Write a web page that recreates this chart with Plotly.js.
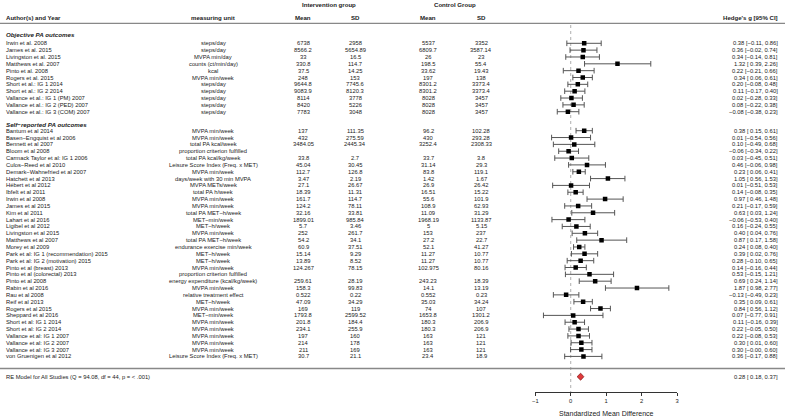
<!DOCTYPE html>
<html>
<head>
<meta charset="utf-8">
<script src="https://cdn.plot.ly/plotly-3.0.1.min.js"></script>
<style>html,body{margin:0;padding:0;background:#fff;}#chart{width:785px;height:417px;}</style>
</head>
<body>
<div id="chart"></div>
<script>
// ---------- DATA ----------
const objAuthors = ["Irwin et al. 2008","James et al. 2015","Livingston et al. 2015","Matthews et al. 2007","Pinto et al. 2008","Rogers et al. 2015","Short et al.: IG 1 2014","Short et al.: IG 2 2014","Vallance et al.: IG 1 (PM) 2007","Vallance et al.: IG 2 (PED) 2007","Vallance et al.: IG 3 (COM) 2007"];
const objUnits = ["steps/day","steps/day","MVPA min/day","counts (ct/min/day)","kcal","MVPA min/week","steps/day","steps/day","steps/day","steps/day","steps/day"];
const objIntMean = [6738,8566.2,33,330.8,37.5,248,9644.8,9083.9,8114,8420,7783];
const objIntSD = [2958,5654.89,16.5,114.7,14.25,153,7745.6,8120.3,3778,5226,3048];
const objCtlMean = [5537,6809.7,26,198.5,33.62,197,8301.2,8301.2,8028,8028,8028];
const objCtlSD = [3352,3587.14,23,55.4,19.43,138,3373.4,3373.4,3457,3457,3457];
const objG = [0.38,0.36,0.34,1.32,0.22,0.34,0.20,0.11,0.02,0.08,-0.08];
const objLo = [-0.11,-0.02,-0.14,0.39,-0.21,0.06,-0.08,-0.17,-0.28,-0.22,-0.38];
const objHi = [0.86,0.74,0.81,2.26,0.66,0.61,0.48,0.40,0.33,0.38,0.23];

const selfAuthors = ["Bantum et al 2014","Basen\u2212Engquist et al 2006","Bennett et al 2007","Bloom et al 2008","Carmack Taylor et al: IG 1 2006","Culos\u2212Reed et al 2010","Demark\u2212Wahnefried et al 2007","Hatchett et al 2013","Hébert et al 2012","Ibfelt et al 2011","Irwin et al 2008","James et al 2015","Kim et al 2011","Lahart et al 2016","Ligibel et al 2012","Livingston et al 2015","Matthews et al 2007","Morey et al 2009","Park et al: IG 1 (recommendation) 2015","Park et al: IG 2 (motivation) 2015","Pinto et al (breast) 2013","Pinto et al (colorectal) 2013","Pinto et al 2008","Rabin et al 2016","Rau et al 2008","Reif et al 2013","Rogers et al 2015","Sheppard et al 2016","Short et al: IG 1 2014","Short et al: IG 2 2014","Vallance et al: IG 1 2007","Vallance et al: IG 2 2007","Vallance et al: IG 3 2007","von Gruenigen et al 2012"];
const selfUnits = ["MVPA min/week","MVPA min/week","total PA kcal/week","proportion criterion fulfilled","total PA kcal/kg/week","Leisure Score Index (Freq. x MET)","MVPA min/week","days/week with 30 min MVPA","MVPA METs/week","total PA h/week","MVPA min/week","MVPA min/week","total PA MET\u2212h/week","MET\u2212min/week","MET\u2212h/week","MVPA min/week","total PA MET\u2212h/week","endurance exercise min/week","MET\u2212h/week","MET\u2212h/week","MVPA min/week","proportion criterion fulfilled","energy expenditure (kcal/kg/week)","MVPA min/week","relative treatment effect","MET\u2212h/week","MVPA min/week","MET\u2212min/week","MVPA min/week","MVPA min/week","MVPA min/week","MVPA min/week","MVPA min/week","Leisure Score Index (Freq. x MET)"];
const selfIntMean = [137,432,3484.05,null,33.8,45.04,112.7,3.47,27.1,18.39,161.7,124.2,32.16,1899.01,5.7,252,54.2,60.9,15.14,13.89,124.267,null,259.61,158.3,0.522,47.09,169,1793.8,201.8,234.1,197,214,211,30.7];
const selfIntSD = [111.35,275.59,2445.34,null,2.7,30.45,126.8,2.19,26.67,11.31,114.7,78.11,33.81,985.84,3.46,261.7,34.1,37.51,9.29,8.52,78.15,null,28.19,99.83,0.22,34.29,119,2599.52,184.4,255.9,160,178,169,21.1];
const selfCtlMean = [96.2,430,3252.4,null,33.7,31.14,83.8,1.42,26.9,16.51,55.6,108.9,11.09,1968.19,5,153,27.2,52.1,11.27,11.27,102.975,null,243.23,14.1,0.552,35.03,74,1653.8,180.3,180.3,163,163,163,23.4];
const selfCtlSD = [102.28,293.28,2308.33,null,3.8,29.3,119.1,1.67,26.42,15.22,101.9,62.93,31.29,1133.87,5.15,237,22.7,41.27,10.77,10.77,80.16,null,18.39,13.19,0.23,34.24,107,1301.2,206.9,206.9,121,121,121,18.9];
const selfG = [0.38,0.01,0.10,-0.06,0.03,0.46,0.23,1.05,0.01,0.14,0.97,0.21,0.63,-0.06,0.16,0.40,0.87,0.24,0.39,0.28,0.14,0.53,0.69,1.87,-0.13,0.35,0.84,0.07,0.11,0.22,0.22,0.30,0.30,0.36];
const selfLo = [0.15,-0.54,-0.49,-0.34,-0.45,-0.06,0.06,0.56,-0.51,-0.08,0.46,-0.17,0.03,-0.53,-0.24,0.04,0.17,0.08,0.02,-0.10,-0.16,-0.15,0.24,0.98,-0.49,0.09,0.56,-0.77,-0.16,-0.05,-0.08,0.01,-0.004,-0.17];
const selfHi = [0.61,0.56,0.68,0.22,0.51,0.98,0.41,1.53,0.53,0.35,1.48,0.59,1.24,0.40,0.55,0.76,1.58,0.40,0.76,0.65,0.44,1.21,1.14,2.77,0.23,0.61,1.12,0.91,0.39,0.50,0.53,0.60,0.60,0.88];

const reLabel = "RE Model for All Studies (Q = 94.08, df = 44, p = < .001)";
const reG = 0.28, reLo = 0.18, reHi = 0.37;
const axisTicks = [-1,0,1,2,3];
const axisTitle = "Standardized Mean Difference";

// ---------- LAYOUT HELPERS ----------
const W = 785, H = 417;
const ROW_H = 6.84;
const OBJ_TOP = 43.3, SELF_TOP = 130.7;
const RE_Y = 376.7, AXIS_Y = 392.3;
const FONT = '"Liberation Sans", Arial, Helvetica, sans-serif';
const TXT = '#222';
const BODY = 5.8, HEAD = 6.1;
const col = {author:4, unit:213, im:303, isd:355, cm:428, csd:481, hg:780};

const objY = objAuthors.map((_, i) => OBJ_TOP + i * ROW_H);
const selfY = selfAuthors.map((_, i) => SELF_TOP + i * ROW_H);

const fmtSigned = v => (v < 0 ? '\u2212' + Math.abs(v).toFixed(2) : Math.abs(v).toFixed(2));
const ciText = (g, lo, hi) => fmtSigned(g) + ' [' + (lo < 0 ? '' : ' ') + fmtSigned(lo) + ', ' + fmtSigned(hi) + ']';
const num = v => (v === null || v === undefined) ? '' : String(v);

const ann = [];
function txt(px, y, text, anchor, font) {
  ann.push({
    xref:'paper', yref:'y', x: px / W, y: y, text: text, showarrow:false,
    xanchor: anchor, yanchor:'middle', font: font
  });
}
const bodyFont = {family:FONT, size:BODY, color:TXT};
const hdrFont = {family:FONT, size:HEAD, color:TXT, weight:'bold'};
const secFont = {family:FONT, size:6.2, color:TXT, weight:'bold', style:'italic'};

// headers
txt((col.im + col.isd)/2, 4.2, 'Intervention group', 'center', hdrFont);
txt((col.cm + col.csd)/2, 4.2, 'Control Group', 'center', hdrFont);
txt(col.author, 17, 'Author(s) and Year', 'left', hdrFont);
txt(col.unit, 17, 'measuring unit', 'center', hdrFont);
txt(col.im, 17, 'Mean', 'center', hdrFont);
txt(col.isd, 17, 'SD', 'center', hdrFont);
txt(col.cm, 17, 'Mean', 'center', hdrFont);
txt(col.csd, 17, 'SD', 'center', hdrFont);
txt(col.hg, 17, "Hedge's g [95% CI]", 'right', hdrFont);

txt(col.author, 34.3, 'Objective PA outcomes', 'left', secFont);
txt(col.author, 124, 'Self\u2212reported PA outcomes', 'left', secFont);

function rows(authors, units, im, isd, cm, csd, g, lo, hi, ys) {
  authors.forEach((a, i) => {
    const y = ys[i];
    txt(col.author, y, a, 'left', bodyFont);
    txt(col.unit, y, units[i], 'center', bodyFont);
    txt(col.im, y, num(im[i]), 'center', bodyFont);
    txt(col.isd, y, num(isd[i]), 'center', bodyFont);
    txt(col.cm, y, num(cm[i]), 'center', bodyFont);
    txt(col.csd, y, num(csd[i]), 'center', bodyFont);
    txt(col.hg, y, ciText(g[i], lo[i], hi[i]), 'right', bodyFont);
  });
}
rows(objAuthors, objUnits, objIntMean, objIntSD, objCtlMean, objCtlSD, objG, objLo, objHi, objY);
rows(selfAuthors, selfUnits, selfIntMean, selfIntSD, selfCtlMean, selfCtlSD, selfG, selfLo, selfHi, selfY);
txt(col.author, RE_Y, reLabel, 'left', bodyFont);
txt(col.hg, RE_Y, ciText(reG, reLo, reHi), 'right', bodyFont);
ann.push({xref:'x', yref:'y', x:(axisTicks[0]+axisTicks[axisTicks.length-1])/2, y:413.5, text:axisTitle, showarrow:false,
  xanchor:'center', yanchor:'middle', font:{family:FONT,size:7,color:TXT}});

// ---------- TRACES ----------
const allG = objG.concat(selfG), allLo = objLo.concat(selfLo), allHi = objHi.concat(selfHi);
const allY = objY.concat(selfY);
const ciX = [], ciY = [], capX = [], capY = [];
allG.forEach((g, i) => {
  ciX.push(allLo[i], allHi[i], null); ciY.push(allY[i], allY[i], null);
  capX.push(allLo[i], allHi[i]); capY.push(allY[i], allY[i]);
});
const DH = 3.5;
const traces = [
  {type:'scatter', mode:'lines', x:ciX, y:ciY, line:{color:'#555', width:1}, hoverinfo:'skip', showlegend:false},
  {type:'scatter', mode:'markers', x:capX, y:capY, marker:{symbol:'line-ns', size:4, line:{color:'#555', width:1}}, hoverinfo:'skip', showlegend:false},
  {type:'scatter', mode:'markers', x:allG, y:allY, marker:{symbol:'square', size:4.5, color:'#000'}, hoverinfo:'skip', showlegend:false},
  {type:'scatter', mode:'lines', x:[reLo, reG, reHi, reG, reLo], y:[RE_Y, RE_Y-DH, RE_Y, RE_Y+DH, RE_Y],
   fill:'toself', fillcolor:'#e0393b', line:{color:'#8a1b1b', width:0.8}, hoverinfo:'skip', showlegend:false}
];

const layout = {
  width:W, height:H, margin:{l:0,r:0,t:0,b:0}, paper_bgcolor:'#fff', plot_bgcolor:'rgba(0,0,0,0)',
  showlegend:false,
  xaxis:{domain:[535.3/W, 677/W], range:[axisTicks[0], axisTicks[axisTicks.length-1]], anchor:'free', position:1-AXIS_Y/H,
    showline:true, linecolor:'#333', linewidth:1, ticks:'outside', ticklen:3, tickwidth:1, tickcolor:'#333',
    tickvals:axisTicks, showgrid:false, zeroline:false, tickfont:{family:FONT,size:5.8,color:TXT}, fixedrange:true},
  yaxis:{domain:[0,1], range:[H,0], visible:false, fixedrange:true},
  shapes:[
    {type:'line', xref:'paper', yref:'y', x0:0, x1:1, y0:23.3, y1:23.3, line:{color:'#888', width:1.3}},
    {type:'line', xref:'paper', yref:'y', x0:0, x1:1, y0:368.5, y1:368.5, line:{color:'#888', width:1.3}},
    {type:'line', xref:'x', yref:'y', x0:0, x1:0, y0:25, y1:AXIS_Y, line:{color:'#999', width:0.8, dash:'dot'}, layer:'below'}
  ],
  annotations:ann
};
Plotly.newPlot('chart', traces, layout, {displayModeBar:false, staticPlot:true});
</script>
</body>
</html>
